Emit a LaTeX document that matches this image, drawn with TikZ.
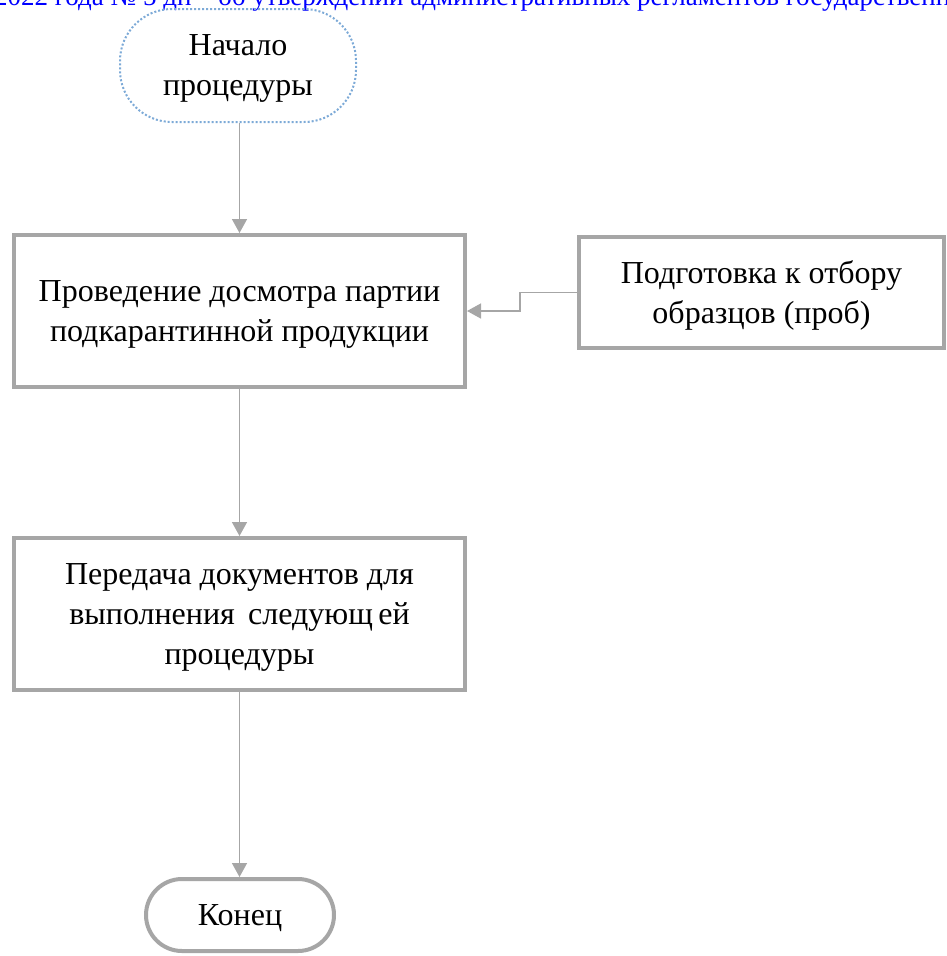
\documentclass[tikz,border=0pt]{standalone}
\usepackage{fontspec}
\setmainfont{Liberation Serif}
\usetikzlibrary{arrows.meta}
\definecolor{boxgray}{RGB}{166,166,166}
\definecolor{startblue}{RGB}{125,170,215}
\begin{document}
\begin{tikzpicture}[x=1pt, y=-1pt,
  every node/.style={font=\fontsize{32}{40}\selectfont, align=center, inner sep=0pt, text depth=-5pt},
  proc box/.style={draw=boxgray, line width=4pt, fill=white, minimum width=#1, minimum height=152pt},
  term box/.style={draw=boxgray, line width=4pt, fill=white, rounded corners=36pt, minimum width=188pt, minimum height=72pt},
  conn/.style={draw=boxgray, line width=1.5pt, -{Triangle[length=14pt, width=15pt]}}]
  %\path[use as bounding box, draw] (0,0) rectangle (947,956);
\useasboundingbox (0,0) rectangle (947,956);
\begin{scope}
\clip (0,0) rectangle (947,956);
\node[anchor=base west, text=blue, font=\fontsize{27}{30}\selectfont, text depth=] (hdr) at (-6, 5)
  {2022 года № 5 дп – об утверждении административных регламентов государственн};

\node[draw=startblue, line width=2pt, dash pattern=on 2pt off 2pt, rounded corners=52pt,
  minimum width=236pt, minimum height=113pt] (start) at (238, 65.5) {Начало\\процедуры};
\node[proc box=451pt] (insp) at (239.5, 311) {Проведение досмотра партии\\подкарантинной продукции};
\node[proc box=365pt, minimum height=111pt] (prep) at (761.5, 292.5) {Подготовка к отбору\\образцов (проб)};
\node[proc box=451pt] (pass) at (239.5, 614) {Передача документов для\\выполнения\ \,следующ\,ей\\процедуры};
\node[term box] (fin) at (240, 915) {Конец};

\draw[conn] (start.south -| insp.north) -- (insp.north);
\draw[conn] (prep.west) -- ++(-57,0) |- (insp.east);
\draw[conn] (insp) -- (pass);
\draw[conn] (pass.south) -- (fin.north -| pass.south);
\end{scope}
\end{tikzpicture}
\end{document}
